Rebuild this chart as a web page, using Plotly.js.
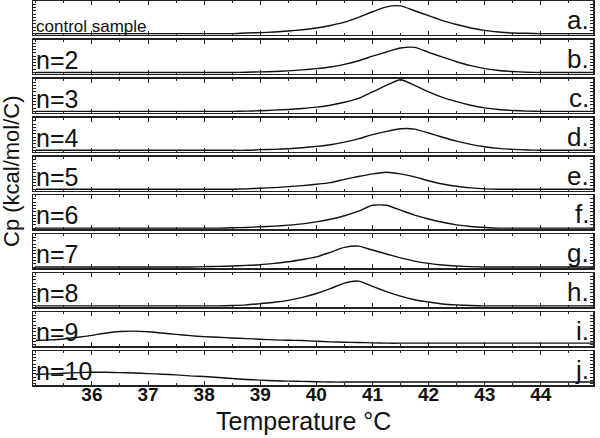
<!DOCTYPE html>
<html>
<head>
<meta charset="utf-8">
<script src="https://cdn.plot.ly/plotly-3.0.1.min.js"></script>
<style>
html, body { margin: 0; padding: 0; background: #fff; }
</style>
</head>
<body>
<div id="chart" style="width:600px;height:438px;"></div>
<script>
// temperature grid (deg C) shared by every panel
var temps = [35, 35.25, 35.5, 35.75, 36, 36.25, 36.5, 36.75, 37, 37.25,
	37.5, 37.75, 38, 38.25, 38.5, 38.75, 39, 39.25, 39.5, 39.75,
	40, 40.25, 40.5, 40.75, 41, 41.25, 41.5, 41.75, 42, 42.25,
	42.5, 42.75, 43, 43.25, 43.5, 43.75, 44, 44.25, 44.5, 44.75, 45];

// Cp (relative panel units)
var cpA = [0,0,0,0,0,0,0,0,0,0,0,0,0,0,0, 0.02,0.03,0.05,0.08,0.12,0.17,0.25,0.35,0.5,0.67,0.82,0.85,0.7,0.55,0.4,0.28,0.17,0.1,0.05,0.02,0.01, 0,0,0,0,0];
var cpB = [0,0,0,0,0,0,0,0,0,0,0,0,0,0,0, 0.01,0.02,0.03,0.05,0.08,0.12,0.17,0.25,0.36,0.5,0.63,0.75,0.77,0.62,0.47,0.33,0.21,0.12,0.06,0.03,0.01, 0,0,0,0,0];
var cpC = [0,0,0,0,0,0,0,0,0,0,0,0,0,0,0, 0.01,0.02,0.04,0.06,0.09,0.13,0.19,0.28,0.4,0.6,0.8,0.97,0.8,0.6,0.43,0.3,0.19,0.11,0.06,0.03,0.01, 0,0,0,0,0];
var cpD = [0,0,0,0,0,0,0,0,0,0,0,0,0,0,0,0, 0.02,0.03,0.05,0.08,0.12,0.17,0.25,0.35,0.48,0.58,0.66,0.65,0.53,0.4,0.28,0.18,0.11,0.06,0.03,0.01, 0,0,0,0,0];
var cpE = [0,0,0,0,0,0,0,0,0,0,0,0,0,0,0, 0.01,0.03,0.05,0.08,0.11,0.15,0.2,0.3,0.39,0.47,0.52,0.47,0.38,0.26,0.16,0.09,0.04,0.01, 0,0,0,0,0,0,0,0];
var cpF = [0,0,0,0,0,0,0,0,0,0,0,0,0,0, 0.01,0.02,0.04,0.06,0.09,0.13,0.19,0.27,0.38,0.52,0.7,0.7,0.55,0.4,0.28,0.18,0.1,0.05,0.02, 0,0,0,0,0,0,0,0];
var cpG = [0,0,0,0,0,0,0,0,0,0,0,0, 0.01,0.02,0.03,0.05,0.07,0.11,0.16,0.23,0.31,0.45,0.6,0.64,0.52,0.4,0.28,0.18,0.11,0.06,0.03,0.01, 0,0,0,0,0,0,0,0,0];
var cpH = [0,0,0,0,0,0,0,0,0,0,0,0,0,0, 0.01,0.03,0.07,0.11,0.17,0.26,0.38,0.53,0.7,0.76,0.6,0.44,0.3,0.19,0.12,0.06,0.03,0.01, 0,0,0,0,0,0,0,0,0];
var cpI = [0.13,0.15,0.18,0.23,0.29,0.36,0.41,0.42,0.4,0.36,0.32,0.28,0.25,0.23,0.21,0.19,0.17,0.15,0.14,0.13,0.11,0.09,0.08,0.07,0.06,
	0.05,0.05,0.05,0.05,0.05,0.05,0.05,0.05,0.05,0.05,0.05,0.05,0.05,0.05,0.05,0.05];
var cpJ = [0.28,0.3,0.32,0.34,0.35,0.35,0.34,0.33,0.31,0.29,0.27,0.24,0.22,0.19,0.16,0.13,0.11,0.09,0.08,0.07,0.06,
	0.05,0.05,0.05,0.05,0.05,0.05,0.05,0.05,0.05,0.05,0.05,0.05,0.05,0.05,0.05,0.05,0.05,0.05,0.05,0.05];

var sampleLabels = ['control sample', 'n=2', 'n=3', 'n=4', 'n=5', 'n=6', 'n=7', 'n=8', 'n=9', 'n=10'];
var panelLetters = ['a.', 'b.', 'c.', 'd.', 'e.', 'f.', 'g.', 'h.', 'i.', 'j.'];
var xTicks = [36, 37, 38, 39, 40, 41, 42, 43, 44];

var series = [cpA, cpB, cpC, cpD, cpE, cpF, cpG, cpH, cpI, cpJ];

var font = 'Liberation Sans, Arial, sans-serif';
var ink = '#111';
var nPanels = series.length;
var plotH = 384;
var step = 39 / 385, panelH = 34 / 385;

var data = [];
var layout = {
	width: 600,
	height: 438,
	margin: { l: 33, r: 7, t: 1, b: 53, pad: 0 },
	paper_bgcolor: '#fff',
	plot_bgcolor: '#fff',
	showlegend: false,
	font: { family: font, color: ink },
	annotations: []
};

for (var i = 0; i < nPanels; i++) {
	var sfx = i === 0 ? '' : String(i + 1);
	data.push({
		x: temps,
		y: series[i],
		xaxis: 'x' + sfx,
		yaxis: 'y' + sfx,
		type: 'scatter',
		mode: 'lines',
		line: { color: ink, width: 1.4, shape: 'spline', smoothing: 0.6 },
		hoverinfo: 'skip'
	});

	var panelTop = 1 - i * step;
	layout['xaxis' + sfx] = {
		anchor: 'y' + sfx,
		range: [34.95, 44.93],
		showline: true, linecolor: '#222', linewidth: 1.5,
		mirror: 'allticks',
		ticks: 'inside', ticklen: 4, tickwidth: 1, tickcolor: '#222',
		tickvals: xTicks,
		minor: { dtick: 0.5, tick0: 35, ticks: 'inside', ticklen: 2, tickcolor: '#222' },
		showticklabels: i === nPanels - 1,
		ticklabelstandoff: -8,
		tickfont: { family: font, size: 19, color: ink, weight: 'bold' },
		showgrid: false, zeroline: false,
		fixedrange: true
	};
	if (i > 0) layout['xaxis' + sfx].matches = 'x';

	layout['yaxis' + sfx] = {
		anchor: 'x' + sfx,
		domain: [Math.max(0, panelTop - panelH), panelTop],
		range: [-0.04, 1],
		showline: true, linecolor: '#222', linewidth: 1.5,
		mirror: 'allticks',
		ticks: 'inside', ticklen: 3, tickwidth: 1, tickcolor: '#222',
		dtick: 0.1, tick0: 0,
		showticklabels: false,
		showgrid: false, zeroline: false,
		fixedrange: true
	};

	layout.annotations.push({
		text: sampleLabels[i],
		xref: 'paper', yref: 'y' + sfx + ' domain',
		x: 0, y: 0.5, xanchor: 'left', yanchor: 'middle',
		xshift: 1, yshift: i === 0 ? -9 : -3,
		showarrow: false,
		font: { family: font, size: i === 0 ? 17 : 25, color: ink }
	});
	layout.annotations.push({
		text: panelLetters[i],
		xref: 'paper', yref: 'y' + sfx + ' domain',
		x: 1, y: 0.5, xanchor: 'right', yanchor: 'middle',
		xshift: -2, yshift: -2,
		showarrow: false,
		font: { family: font, size: 26, color: ink }
	});
}

// axis titles placed as annotations so they sit where the original has them
layout.annotations.push({
	text: 'Temperature °C',
	xref: 'paper', yref: 'paper',
	x: (303 - 33) / 560, y: 0, xanchor: 'center', yanchor: 'middle',
	yshift: -36,
	showarrow: false,
	font: { family: font, size: 25, color: ink }
});
layout.annotations.push({
	text: 'Cp (kcal/mol/C)',
	xref: 'paper', yref: 'paper',
	x: 0, y: 1 - (171 - 1) / plotH, xanchor: 'center', yanchor: 'middle',
	xshift: -21, textangle: -90,
	showarrow: false,
	font: { family: font, size: 22, color: ink }
});

Plotly.newPlot('chart', data, layout, { staticPlot: true });
</script>
</body>
</html>
